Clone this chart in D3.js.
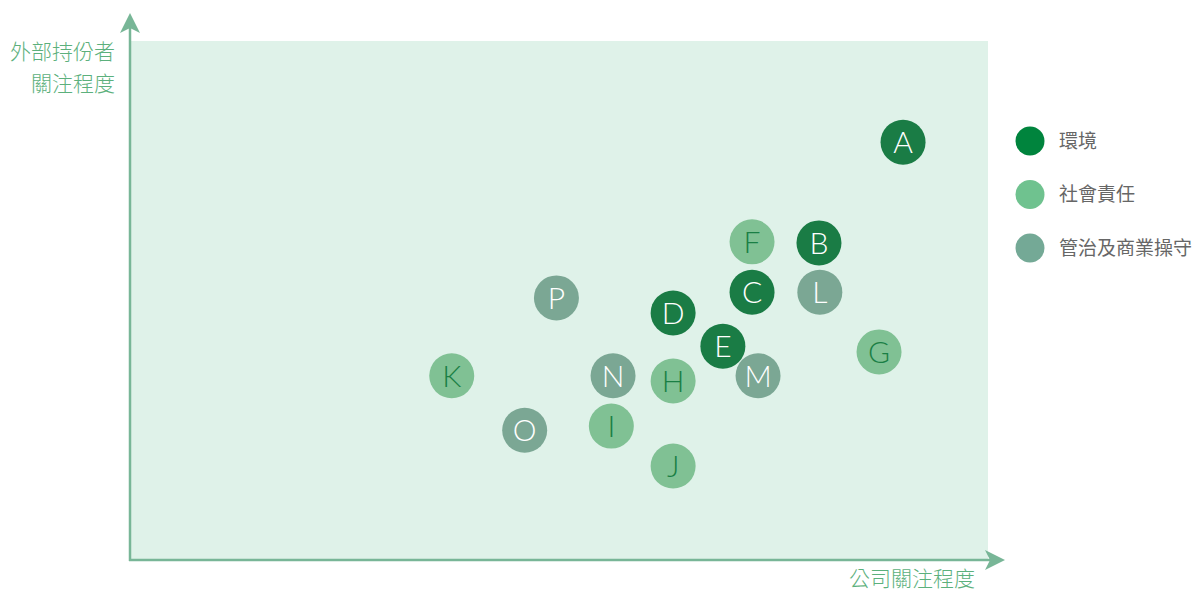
<!DOCTYPE html>
<html>
<head>
<meta charset="utf-8">
<script src="https://cdn.jsdelivr.net/npm/d3@7"></script>
<style>
  body { margin: 0; background: #fff; }
  svg { display: block; }
  .cjk { font-family: "Noto Sans CJK TC", "Noto Sans CJK SC", sans-serif; }
</style>
</head>
<body>
<svg class="main" width="1194" height="591"></svg>
<script>
(function () {
  'use strict';

  // topic labels, company concern (x) and stakeholder concern (y), 0-100
  const labels = ["A", "B", "C", "D", "E", "F", "G", "H", "I", "J", "K", "L", "M", "N", "O", "P"];
  const companyConcern = [90.1, 80.3, 72.5, 63.3, 69.1, 72.5, 87.3, 63.3, 56.1, 63.3, 37.5, 80.4, 73.2, 56.3, 46.0, 49.7];
  const stakeholderConcern = [80.5, 61.1, 51.6, 47.6, 41.2, 61.3, 40.1, 34.5, 25.8, 18.1, 35.5, 51.6, 35.5, 35.5, 25.0, 50.5];
  const groupOf = [0, 0, 0, 0, 0, 1, 1, 1, 1, 1, 1, 2, 2, 2, 2, 2];

  const groups = ["環境", "社會責任", "管治及商業操守"];
  const legendColors = ["#00843d", "#6fc28f", "#74a996"];
  const bubbleFill = ["#1a7c45", "#80c194", "#7ba794"];
  const letterFill = ["#ffffff", "#1a7f45", "#ffffff"];

  const yTitle = ["外部持份者", "關注程度"];
  const xTitle = "公司關注程度";

  const axisColor = "#78b697";
  const titleColor = "#5cb07c";

  const svg = d3.select("svg.main");

  const x = d3.scaleLinear().domain([0, 100]).range([130, 988]);
  const y = d3.scaleLinear().domain([0, 100]).range([560, 41]);

  // plot area
  svg.append("rect")
    .attr("x", x(0))
    .attr("y", y(100))
    .attr("width", x(100) - x(0))
    .attr("height", y(0) - y(100))
    .attr("fill", "#dff2e9");

  // axes with arrows
  svg.append("line")
    .attr("x1", x(0)).attr("y1", y(0) + 1)
    .attr("x2", x(0)).attr("y2", 28)
    .attr("stroke", axisColor).attr("stroke-width", 2.5);
  svg.append("line")
    .attr("x1", x(0) - 1).attr("y1", y(0))
    .attr("x2", 992).attr("y2", y(0))
    .attr("stroke", axisColor).attr("stroke-width", 2.5);

  const ax = x(0), ay = y(0);
  svg.append("path")
    .attr("d", `M${ax},13 L${ax + 10},33 L${ax},28 L${ax - 10},33 Z`)
    .attr("fill", axisColor);
  svg.append("path")
    .attr("d", `M1005,${ay} L985,${ay - 10} L990,${ay} L985,${ay + 10} Z`)
    .attr("fill", axisColor);

  // axis titles
  const yt = svg.append("text")
    .attr("class", "cjk")
    .attr("text-anchor", "end")
    .attr("fill", titleColor)
    .attr("font-size", 21)
    .attr("font-weight", 300);
  yTitle.forEach((t, i) => {
    yt.append("tspan").attr("x", 115).attr("y", 59 + i * 32).text(t);
  });

  svg.append("text")
    .attr("class", "cjk")
    .attr("x", 975)
    .attr("y", 586)
    .attr("text-anchor", "end")
    .attr("fill", titleColor)
    .attr("font-size", 21)
    .attr("font-weight", 300)
    .text(xTitle);

  // bubbles, drawn by group so later groups sit on top
  const data = labels.map((l, i) => ({
    label: l,
    cx: companyConcern[i],
    cy: stakeholderConcern[i],
    g: groupOf[i]
  }));
  const order = d3.sort(data, d => d.g);

  const nodes = svg.append("g").selectAll("g")
    .data(order)
    .join("g")
    .attr("transform", d => `translate(${x(d.cx)}, ${y(d.cy)})`);

  nodes.append("circle")
    .attr("r", 22.5)
    .attr("fill", d => bubbleFill[d.g]);

  nodes.append("text")
    .attr("text-anchor", "middle")
    .attr("dy", "0.36em")
    .attr("font-family", "Lato, 'Open Sans', sans-serif")
    .attr("font-weight", 300)
    .attr("font-size", 30)
    .attr("fill", d => letterFill[d.g])
    .text(d => d.label);

  // legend
  const legend = svg.append("g").selectAll("g")
    .data(groups)
    .join("g")
    .attr("transform", (d, i) => `translate(1030, ${141 + i * 53.5})`);

  legend.append("circle")
    .attr("r", 14.5)
    .attr("fill", (d, i) => legendColors[i]);

  legend.append("text")
    .attr("class", "cjk")
    .attr("x", 29)
    .attr("dy", "0.35em")
    .attr("font-size", 19)
    .attr("fill", "#666")
    .text(d => d);
}());
</script>
</body>
</html>
